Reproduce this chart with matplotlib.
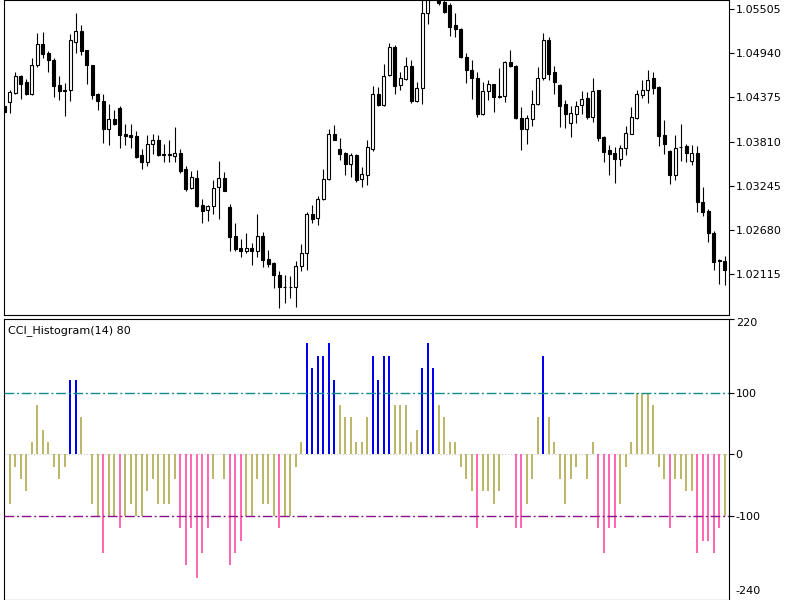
import matplotlib
matplotlib.use('Agg')
import matplotlib.pyplot as plt
import numpy as np

# candle data (bar 0 is the leftmost, partly hidden by the frame)
opens = [1.04261, 1.04316, 1.04432, 1.04645, 1.04573, 1.04414, 1.04786, 1.05056, 1.04936, 1.04859,
         1.04530, 1.04457, 1.04466, 1.05086, 1.05227, 1.04979, 1.04786, 1.04423, 1.04329, 1.03974,
         1.04102, 1.04243, 1.03910, 1.03897, 1.03876, 1.03632, 1.03547, 1.03782, 1.03833, 1.03645,
         1.03645, 1.03619, 1.03662, 1.03461, 1.03217, 1.03341, 1.03004, 1.02935, 1.02991, 1.03226,
         1.03346, 1.02978, 1.02606, 1.02444, 1.02405, 1.02444, 1.02405, 1.02606, 1.02307, 1.02251,
         1.02106, 1.01956, 1.01956, 1.01944, 1.02221, 1.02380, 1.02884, 1.02833, 1.03076, 1.03333,
         1.03910, 1.03718, 1.03662, 1.03525, 1.03632, 1.03333, 1.03388, 1.03718, 1.04414, 1.04273,
         1.04658, 1.05022, 1.04530, 1.04615, 1.04774, 1.04329, 1.04500, 1.05458, 1.05706, 1.05663,
         1.05599, 1.05556, 1.05299, 1.05244, 1.04893, 1.04722, 1.04628, 1.04158, 1.04457, 1.04543,
         1.04393, 1.04389, 1.04829, 1.04774, 1.04115, 1.03974, 1.04102, 1.04286, 1.04628, 1.05107,
         1.04701, 1.04530, 1.04286, 1.04047, 1.04167, 1.04273, 1.04372, 1.04124, 1.04466, 1.03867,
         1.03696, 1.03662, 1.03589, 1.03730, 1.03910, 1.04115, 1.04402, 1.04466, 1.04628, 1.04509,
         1.03889, 1.03688, 1.03388, 1.03743, 1.03748, 1.03559, 1.03662, 1.03034, 1.02918, 1.02636,
         1.02290, 1.02286]
highs = [1.04273, 1.04474, 1.04701, 1.04658, 1.04607, 1.04872, 1.05201, 1.05214, 1.04970, 1.04872,
         1.04645, 1.04560, 1.05184, 1.05449, 1.05299, 1.04987, 1.04795, 1.04432, 1.04414, 1.04295,
         1.04209, 1.04261, 1.04038, 1.04030, 1.03944, 1.03718, 1.03889, 1.03910, 1.03889, 1.03773,
         1.03833, 1.03995, 1.03718, 1.03491, 1.03431, 1.03440, 1.03076, 1.03004, 1.03320, 1.03555,
         1.03418, 1.03012, 1.02764, 1.02563, 1.02636, 1.02508, 1.02884, 1.02649, 1.02422, 1.02264,
         1.02157, 1.02106, 1.02093, 1.02277, 1.02499, 1.02905, 1.03004, 1.03119, 1.03461, 1.03974,
         1.04017, 1.03859, 1.03675, 1.03662, 1.03645, 1.03483, 1.03825, 1.04517, 1.04509, 1.04808,
         1.05073, 1.05043, 1.04701, 1.04885, 1.04859, 1.04573, 1.05640, 1.05748, 1.05919, 1.05748,
         1.05663, 1.05577, 1.05449, 1.05257, 1.04945, 1.04859, 1.04701, 1.04573, 1.04594, 1.04551,
         1.04756, 1.04842, 1.04987, 1.04786, 1.04252, 1.04145, 1.04474, 1.04765, 1.05201, 1.05141,
         1.04774, 1.04543, 1.04346, 1.04261, 1.04329, 1.04457, 1.04444, 1.04628, 1.04474, 1.03876,
         1.03760, 1.03739, 1.03760, 1.04004, 1.04252, 1.04474, 1.04594, 1.04731, 1.04701, 1.04517,
         1.04081, 1.03696, 1.03889, 1.04030, 1.03782, 1.03760, 1.03748, 1.03226, 1.02948, 1.02662,
         1.02307, 1.02350]
lows = [1.04175, 1.04175, 1.04423, 1.04359, 1.04402, 1.04402, 1.04765, 1.04872, 1.04701, 1.04380,
        1.04337, 1.04132, 1.04329, 1.04945, 1.04915, 1.04551, 1.04359, 1.04218, 1.03790, 1.03760,
        1.04017, 1.03730, 1.03760, 1.03730, 1.03602, 1.03461, 1.03491, 1.03645, 1.03619, 1.03547,
        1.03547, 1.03547, 1.03406, 1.03175, 1.03205, 1.02978, 1.02764, 1.02790, 1.02884, 1.02820,
        1.03175, 1.02405, 1.02414, 1.02328, 1.02380, 1.02234, 1.02328, 1.02200, 1.02200, 1.01935,
        1.01687, 1.01751, 1.01815, 1.01696, 1.02157, 1.02166, 1.02764, 1.02747, 1.03064, 1.03320,
        1.03825, 1.03577, 1.03388, 1.03354, 1.03290, 1.03235, 1.03260, 1.03688, 1.04261, 1.04261,
        1.04645, 1.04423, 1.04474, 1.04594, 1.04303, 1.04316, 1.04286, 1.05312, 1.05641, 1.05556,
        1.05458, 1.05158, 1.05150, 1.04872, 1.04560, 1.04359, 1.04124, 1.04145, 1.04337, 1.04188,
        1.04372, 1.04316, 1.04765, 1.04102, 1.03696, 1.03773, 1.04004, 1.04273, 1.04603, 1.04603,
        1.04414, 1.03995, 1.03987, 1.03867, 1.04047, 1.04158, 1.04102, 1.04060, 1.03816, 1.03547,
        1.03388, 1.03277, 1.03491, 1.03632, 1.03901, 1.04102, 1.04372, 1.04303, 1.04423, 1.03748,
        1.03645, 1.03269, 1.03312, 1.03559, 1.03547, 1.03504, 1.02905, 1.02863, 1.02521, 1.02166,
        1.01986, 1.01978]
closes = [1.04188, 1.04444, 1.04645, 1.04551, 1.04414, 1.04786, 1.05056, 1.04927, 1.04850, 1.04517,
          1.04457, 1.04466, 1.05107, 1.05227, 1.04970, 1.04786, 1.04402, 1.04329, 1.03974, 1.04102,
          1.04030, 1.03889, 1.03884, 1.03867, 1.03611, 1.03547, 1.03782, 1.03833, 1.03632, 1.03636,
          1.03636, 1.03662, 1.03431, 1.03205, 1.03363, 1.02991, 1.02927, 1.02991, 1.03217, 1.03346,
          1.03183, 1.02593, 1.02435, 1.02405, 1.02444, 1.02414, 1.02606, 1.02294, 1.02243, 1.02106,
          1.01944, 1.01948, 1.01948, 1.02221, 1.02380, 1.02884, 1.02820, 1.03076, 1.03333, 1.03910,
          1.03833, 1.03645, 1.03525, 1.03632, 1.03320, 1.03397, 1.03739, 1.04414, 1.04273, 1.04645,
          1.05022, 1.04517, 1.04628, 1.04774, 1.04329, 1.04500, 1.05458, 1.05641, 1.05834, 1.05577,
          1.05470, 1.05278, 1.05244, 1.04885, 1.04722, 1.04628, 1.04158, 1.04457, 1.04543, 1.04380,
          1.04385, 1.04829, 1.04774, 1.04115, 1.03974, 1.04115, 1.04295, 1.04628, 1.05107, 1.04671,
          1.04573, 1.04261, 1.04167, 1.04175, 1.04261, 1.04359, 1.04124, 1.04457, 1.03859, 1.03675,
          1.03653, 1.03589, 1.03730, 1.03919, 1.04124, 1.04414, 1.04466, 1.04603, 1.04500, 1.03876,
          1.03773, 1.03388, 1.03730, 1.03735, 1.03662, 1.03662, 1.03034, 1.02905, 1.02636, 1.02264,
          1.02281, 1.02166]

# CCI histogram values
cci = [-60, -80, -20, -40, -60, 20, 80, 40, 20, -20,
       -40, -20, 120, 120, 60, 0, -80, -100, -160, -100,
       -100, -120, -100, -80, -100, -100, -60, -40, -80, -80,
       -80, -40, -120, -180, -120, -200, -160, -120, -40, 0,
       -40, -180, -160, -140, -100, -100, -40, -80, -80, -100,
       -120, -100, -100, -20, 20, 180, 140, 160, 160, 180,
       120, 80, 60, 60, 20, 20, 60, 160, 120, 160,
       160, 80, 80, 80, 20, 40, 140, 180, 140, 80,
       60, 20, 20, -20, -40, -60, -120, -60, -60, -80,
       -60, 0, 0, -120, -120, -80, -40, 60, 160, 60,
       20, -40, -80, -40, -20, 0, -40, 20, -120, -160,
       -120, -120, -80, -20, 20, 100, 100, 100, 80, -20,
       -40, -120, -40, -40, -60, -60, -160, -140, -140, -160,
       -120, -100]

price_ticks = [1.05505, 1.04940, 1.04375, 1.03810, 1.03245, 1.02680, 1.02115]
cci_ticks = [220, 100, 0, -100]
cci_levels = [100, -100]
title = 'CCI_Histogram(14) 80'

fs = 8
fig = plt.figure(figsize=(8, 6), dpi=100)
ax1 = fig.add_axes([0.005, 1 - 315 / 600, 0.906, 315 / 600])
ax2 = fig.add_axes([0.005, 0.0, 0.906, 1 - 318.5 / 600])

x = np.arange(len(opens))
o = np.array(opens)
c = np.array(closes)

# candles
ax1.vlines(x, lows, highs, color='black', lw=0.8, zorder=1)
body_col = ['white' if cc > oo else 'black' for oo, cc in zip(o, c)]
ax1.bar(x, np.abs(c - o), bottom=np.minimum(o, c), width=0.52, color=body_col,
        edgecolor='black', linewidth=0.8, zorder=2)
ax1.set_xlim(-0.05, 131.76)
ax1.set_ylim(1.01592, 1.05620)
ax1.set_xticks([])
ax1.yaxis.tick_right()
ax1.set_yticks(price_ticks)
ax1.set_yticklabels(['%.5f' % v for v in price_ticks])

# histogram
hist_col = ['#0000f0' if v > 100 else '#ff69b4' if v < -100 else '#bdb76b' for v in cci]
ax2.axhline(0, color='#c8c8c8', lw=0.8, ls=':', zorder=1)
ax2.bar(x, cci, width=0.36, color=hist_col, zorder=2)
ax2.axhline(cci_levels[0], color='#108c8c', lw=1.0, ls=(0, (7, 2, 1.4, 2)), zorder=3)
ax2.axhline(cci_levels[1], color='#8c108c', lw=1.0, ls=(0, (7, 2, 1.4, 2)), zorder=3)
ax2.set_xlim(-0.05, 131.76)
ax2.set_ylim(-236.3, 220)
ax2.set_xticks([])
ax2.yaxis.tick_right()
ax2.set_yticks(cci_ticks)
ax2.set_yticklabels([str(v) for v in cci_ticks])
ax2.get_yticklabels()[0].set_va('top')
ax2.annotate('-240', xy=(1, 0), xycoords='axes fraction', xytext=(4.5, 3),
             textcoords='offset points', ha='left', va='bottom', fontsize=fs)
ax2.text(0.005, 1 - 12.5 / 281.5, title, transform=ax2.transAxes, ha='left', va='center', fontsize=fs)

for ax in (ax1, ax2):
    ax.tick_params(axis='y', direction='out', length=3.5, width=0.8, pad=1.5, labelsize=fs)
    for s in ax.spines.values():
        s.set_color('black')
        s.set_linewidth(0.8)

fig.savefig('out.png', dpi=100)
